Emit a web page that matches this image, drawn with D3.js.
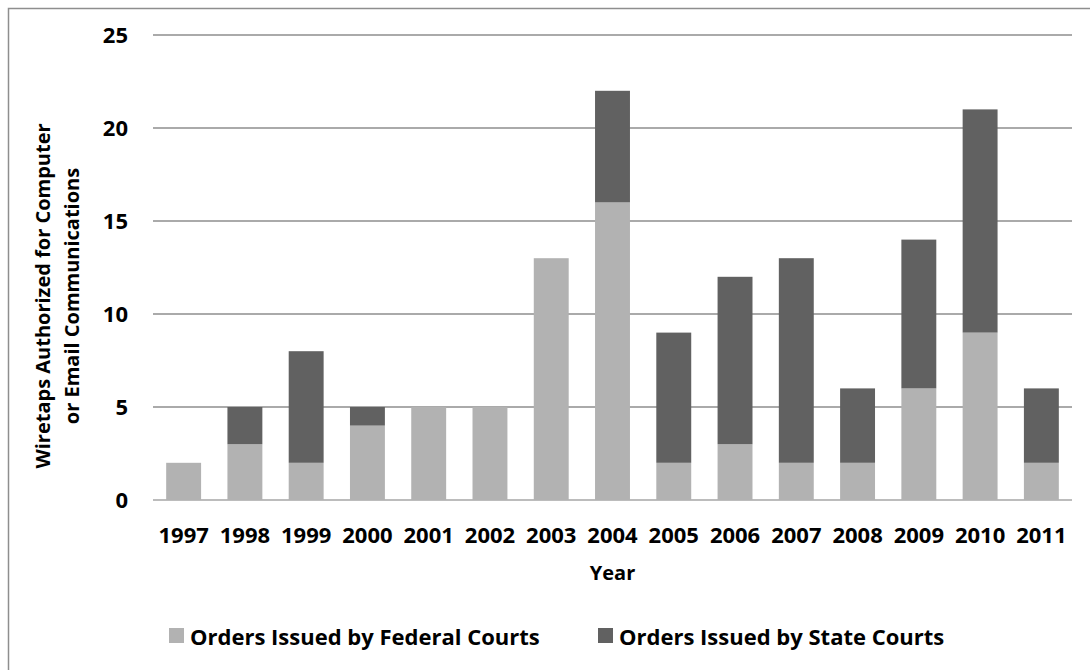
<!DOCTYPE html>
<html>
<head>
<meta charset="utf-8">
<script src="https://cdn.jsdelivr.net/npm/d3@7"></script>
<style>
  body { margin: 0; background: #fff; }
  text { font-family: "Open Sans", "DejaVu Sans", sans-serif; font-weight: bold; fill: #000; }
</style>
</head>
<body>
<div class="chart"></div>
<script>
var years = ["1997", "1998", "1999", "2000", "2001", "2002", "2003", "2004",
             "2005", "2006", "2007", "2008", "2009", "2010", "2011"];
var federal = [2, 3, 2, 4, 5, 5, 13, 16, 2, 3, 2, 2, 6, 9, 2];
var state = [0, 2, 6, 1, 0, 0, 0, 6, 7, 9, 11, 4, 8, 12, 4];
var yTicks = [0, 5, 10, 15, 20, 25];
var seriesNames = ["Orders Issued by Federal Courts", "Orders Issued by State Courts"];
var seriesColors = ["#b2b2b2", "#616161"];

var svgWidth = 1090;
var svgHeight = 670;

var margin = { top: 35, right: 18, bottom: 170, left: 153 };
var width = svgWidth - margin.left - margin.right;
var height = svgHeight - margin.top - margin.bottom;

var svg = d3.select(".chart")
  .append("svg")
  .attr("width", svgWidth)
  .attr("height", svgHeight);

// outer frame (runs off the right/bottom edge like the original)
svg.append("rect")
  .attr("x", 8.5)
  .attr("y", 8.5)
  .attr("width", svgWidth + 20)
  .attr("height", svgHeight + 20)
  .attr("fill", "none")
  .attr("stroke", "#8e8e8e")
  .attr("stroke-width", 1.5);

var chartGroup = svg.append("g")
  .attr("transform", `translate(${margin.left}, ${margin.top})`);

var rows = years.map(function(y, i) {
  return { year: y, federal: federal[i], state: state[i] };
});

var stack = d3.stack().keys(["federal", "state"]);
var stacked = stack(rows);

var xScale = d3.scaleBand()
  .domain(years)
  .range([0, width])
  .paddingInner(0.43)
  .paddingOuter(0.215);

var yScale = d3.scaleLinear()
  .domain([0, 25])
  .range([height, 0]);

// gridlines
chartGroup.append("g")
  .selectAll("line")
  .data(yTicks)
  .enter()
  .append("line")
  .attr("x1", 0)
  .attr("x2", width)
  .attr("y1", d => yScale(d))
  .attr("y2", d => yScale(d))
  .attr("stroke", d => d === 0 ? "#a6a6a6" : "#8e8e8e")
  .attr("stroke-width", 1.5);

// bars
chartGroup.selectAll(".series")
  .data(stacked)
  .enter()
  .append("g")
  .attr("class", "series")
  .attr("fill", (d, i) => seriesColors[i])
  .selectAll("rect")
  .data(d => d)
  .enter()
  .append("rect")
  .attr("x", d => xScale(d.data.year))
  .attr("y", d => yScale(d[1]))
  .attr("width", xScale.bandwidth())
  .attr("height", d => yScale(d[0]) - yScale(d[1]));

// y axis labels
var leftAxis = d3.axisLeft(yScale).tickValues(yTicks).tickSize(0).tickPadding(25);
var yAxisG = chartGroup.append("g").call(leftAxis);
yAxisG.select(".domain").remove();
yAxisG.selectAll("text").attr("font-size", 22);

// x axis labels
var bottomAxis = d3.axisBottom(xScale).tickSize(0).tickPadding(27);
var xAxisG = chartGroup.append("g")
  .attr("transform", `translate(0, ${height})`)
  .call(bottomAxis);
xAxisG.select(".domain").remove();
xAxisG.selectAll("text").attr("font-size", 22);

// axis titles
chartGroup.append("text")
  .attr("x", width / 2)
  .attr("y", height + 80)
  .attr("text-anchor", "middle")
  .attr("font-size", 20)
  .text("Year");

var yTitle = svg.append("text")
  .attr("transform", "translate(0, 296) rotate(-90)")
  .attr("text-anchor", "middle")
  .attr("font-size", 20);
yTitle.append("tspan").attr("x", 0).attr("y", 50).text("Wiretaps Authorized for Computer");
yTitle.append("tspan").attr("x", 0).attr("y", 79).text("or Email Communications");

// legend
var legendX = [169, 598];
var legend = svg.selectAll(".legend")
  .data(seriesNames)
  .enter()
  .append("g")
  .attr("class", "legend")
  .attr("transform", (d, i) => `translate(${legendX[i]}, 628)`);

legend.append("rect")
  .attr("width", 15)
  .attr("height", 15)
  .attr("fill", (d, i) => seriesColors[i]);

legend.append("text")
  .attr("x", 21)
  .attr("y", 17)
  .attr("font-size", 22)
  .text(d => d);
</script>
</body>
</html>
